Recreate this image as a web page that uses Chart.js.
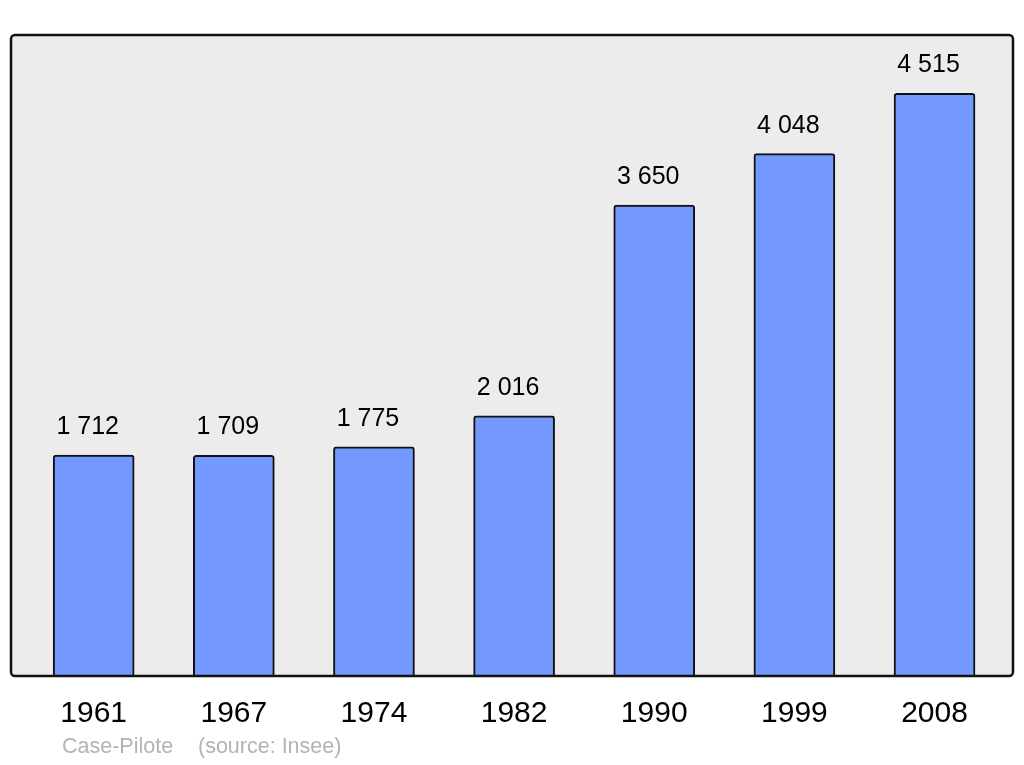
<!DOCTYPE html>
<html>
<head>
<meta charset="utf-8">
<script src="https://cdn.jsdelivr.net/npm/chart.js@4/dist/chart.umd.min.js"></script>
<style>
  html, body { margin: 0; padding: 0; background: #fff; }
  #wrap { width: 1024px; height: 765px; }
</style>
</head>
<body>
<div id="wrap"><canvas id="pop-chart" width="1024" height="765"></canvas></div>
<script>
var years = ["1961", "1967", "1974", "1982", "1990", "1999", "2008"];
var population = [1712, 1709, 1775, 2016, 3650, 4048, 4515];
var footerTown = "Case-Pilote";
var footerSource = "(source: Insee)";

function spaced(n) {
    return String(n).replace(/\B(?=(\d{3})+(?!\d))/g, " ");
}

// grey plot box behind the bars, outline on top of them
var boxPlugin = {
    id: "box",
    beforeDatasetsDraw: function(chart) {
        var a = chart.chartArea, ctx = chart.ctx;
        ctx.save();
        ctx.beginPath();
        ctx.roundRect(a.left, a.top, a.right - a.left, a.bottom - a.top, 4);
        ctx.fillStyle = "#ececec";
        ctx.fill();
        ctx.restore();
    },
    afterDatasetsDraw: function(chart) {
        var a = chart.chartArea, ctx = chart.ctx;
        ctx.save();
        ctx.beginPath();
        ctx.roundRect(a.left, a.top, a.right - a.left, a.bottom - a.top, 4);
        ctx.lineWidth = 2.5;
        ctx.strokeStyle = "#111";
        ctx.stroke();

        // value labels above each bar (sit a little left of centre)
        ctx.fillStyle = "#000";
        ctx.font = "25px 'Liberation Sans', Arial, sans-serif";
        ctx.textAlign = "center";
        ctx.textBaseline = "alphabetic";
        chart.getDatasetMeta(0).data.forEach(function(bar, i) {
            ctx.fillText(spaced(population[i]), bar.x - 6, bar.y - 21);
        });

        // footer
        ctx.fillStyle = "#b3b3b3";
        ctx.font = "21.5px 'Liberation Sans', Arial, sans-serif";
        ctx.textAlign = "left";
        ctx.textBaseline = "middle";
        ctx.fillText(footerTown, 62, 747);
        ctx.fillText(footerSource, 198, 747);
        ctx.restore();
    }
};

var ctx = document.getElementById("pop-chart").getContext("2d");
new Chart(ctx, {
    type: "bar",
    data: {
        datasets: [{
            data: population.map(function(v, i) { return { x: i, y: v }; }),
            backgroundColor: "#7399ff",
            borderColor: "#111",
            borderWidth: 2,
            borderRadius: 3,
            borderSkipped: "start",
            barThickness: 81
        }]
    },
    options: {
        responsive: false,
        animation: false,
        layout: {
            padding: { left: 11, right: 11, top: 35, bottom: 13 }
        },
        plugins: {
            legend: { display: false },
            tooltip: { enabled: false }
        },
        scales: {
            x: {
                type: "linear",
                offset: false,
                min: -0.59,
                max: 6.56,
                grid: { display: false, drawTicks: false, offset: false },
                border: { display: false },
                afterBuildTicks: function(scale) {
                    scale.ticks = years.map(function(y, i) { return { value: i }; });
                },
                ticks: {
                    padding: 20,
                    color: "#000",
                    maxRotation: 0,
                    autoSkip: false,
                    font: { size: 30, family: "'Liberation Sans', Arial, sans-serif", lineHeight: 1.2 },
                    callback: function(value) {
                        return years[value];
                    }
                }
            },
            y: {
                display: false,
                min: 0,
                max: 4967
            }
        }
    },
    plugins: [boxPlugin]
});
</script>
</body>
</html>
